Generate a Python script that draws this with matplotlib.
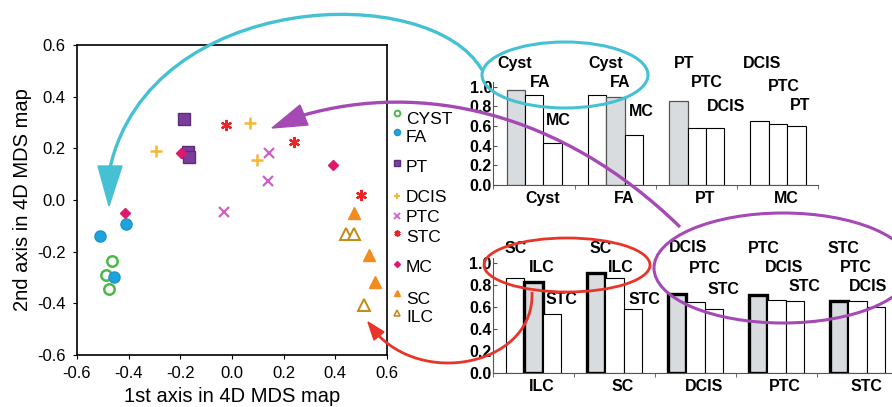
import numpy as np
import matplotlib
matplotlib.use('Agg')
import matplotlib.pyplot as plt
from matplotlib.path import Path
from matplotlib.patches import PathPatch, Ellipse, Polygon

plt.rcParams['font.family'] = ['Liberation Sans', 'DejaVu Sans']

# ---- MDS map points ----
cyst_x = [-0.465, -0.488, -0.477]
cyst_y = [-0.235, -0.290, -0.346]
fa_x = [-0.510, -0.410, -0.455]
fa_y = [-0.140, -0.094, -0.300]
pt_x = [-0.185, -0.172, -0.166]
pt_y = [0.314, 0.187, 0.168]
dcis_x = [-0.293, 0.071, 0.097]
dcis_y = [0.190, 0.297, 0.155]
ptc_x = [0.142, 0.138, -0.032]
ptc_y = [0.181, 0.075, -0.045]
stc_x = [-0.023, 0.241, 0.499]
stc_y = [0.290, 0.226, 0.019]
mc_x = [-0.197, 0.393, -0.415]
mc_y = [0.183, 0.136, -0.049]
sc_x = [0.471, 0.529, 0.552]
sc_y = [-0.051, -0.213, -0.316]
ilc_x = [0.443, 0.474, 0.512]
ilc_y = [-0.133, -0.133, -0.406]

ticks = [-0.6, -0.4, -0.2, 0.0, 0.2, 0.4, 0.6]

# ---- bar charts ----
top_groups = ['Cyst', 'FA', 'PT', 'MC']
top_names = [['Cyst', 'FA', 'MC'], ['Cyst', 'FA', 'MC'],
             ['PT', 'PTC', 'DCIS'], ['DCIS', 'PTC', 'PT']]
top_vals = [[0.97, 0.92, 0.43], [0.92, 0.89, 0.51],
            [0.85, 0.58, 0.58], [0.65, 0.62, 0.60]]

bot_groups = ['ILC', 'SC', 'DCIS', 'PTC', 'STC']
bot_names = [['SC', 'ILC', 'STC'], ['SC', 'ILC', 'STC'], ['DCIS', 'PTC', 'STC'],
             ['PTC', 'DCIS', 'STC'], ['STC', 'PTC', 'DCIS']]
bot_vals = [[0.87, 0.83, 0.54], [0.91, 0.87, 0.58], [0.72, 0.65, 0.58],
            [0.71, 0.67, 0.66], [0.66, 0.66, 0.60]]

# label placement (layout only)
top_lab_y = [[1.24, 1.04, 0.66], [1.24, 1.04, 0.75], [1.24, 1.04, 0.80], [1.24, 1.0, 0.81]]
top_lab_dx = [[-0.02, 0.07, 0.07], [0.1, 0.06, 0.09], [0.07, 0.12, 0.14], [0.03, 0.07, 0.05]]
bot_lab_y = [[1.13, 0.96, 0.67], [1.13, 0.96, 0.67], [1.14, 0.955, 0.76],
             [1.13, 0.96, 0.79], [1.13, 0.96, 0.79]]
bot_lab_dx = [[0, 0.1, 0.12], [0.06, 0.08, 0.14], [0.14, 0.12, 0.12],
              [0.07, 0.1, 0.12], [0.05, -0.02, -0.1]]

styles = {
    'CYST': dict(marker='o', mfc='none', mec='#4cb848', mew=1.8, ms=7.5),
    'FA': dict(marker='o', mfc='#1fa3dd', mec='#1a95cc', ms=8),
    'PT': dict(marker='s', mfc='#7a3d9c', mec='#5e2c7c', ms=8),
    'DCIS': dict(marker='+', mfc='#f7b731', mec='#f7b731', mew=1.8, ms=9),
    'PTC': dict(marker='x', mfc='#cf5fc6', mec='#cf5fc6', mew=1.6, ms=7.5),
    'STC': dict(marker=(6, 2, 0), mfc='#e8262a', mec='#e8262a', mew=1.6, ms=8),
    'MC': dict(marker='D', mfc='#e0186c', mec='#e0186c', ms=5.5),
    'SC': dict(marker='^', mfc='#f28c1e', mec='#f28c1e', ms=9),
    'ILC': dict(marker='^', mfc='white', mec='#c48a14', mew=1.4, ms=8),
}
points = [('CYST', cyst_x, cyst_y), ('FA', fa_x, fa_y), ('PT', pt_x, pt_y),
          ('DCIS', dcis_x, dcis_y), ('PTC', ptc_x, ptc_y), ('STC', stc_x, stc_y),
          ('MC', mc_x, mc_y), ('SC', sc_x, sc_y), ('ILC', ilc_x, ilc_y)]

fig = plt.figure(figsize=(8.92, 4.07), dpi=100)

# scatter panel
ax = fig.add_axes([0.0863, 0.1278, 0.3475, 0.7617])
for name, xs, ys in points:
    ax.plot(xs, ys, ls='none', **styles[name])
ax.set_xlim(-0.6, 0.6)
ax.set_ylim(-0.6, 0.6)
ax.set_xticks(ticks)
ax.set_yticks(ticks)
ax.set_xticklabels(['%.1f' % t for t in ticks])
ax.set_yticklabels(['%.1f' % t for t in ticks])
ax.tick_params(direction='out', length=3, labelsize=12, pad=5)
for s in ax.spines.values():
    s.set_linewidth(1.2)
ax.set_xlabel('1st axis in 4D MDS map', fontsize=14.5, labelpad=4)
ax.set_ylabel('2nd axis in 4D MDS map', fontsize=14.5, labelpad=4)


def bar_panel(rect, groups, names, vals, lab_y, lab_dx, gray_lw, gray_ec):
    bx = fig.add_axes(rect)
    w = 0.226
    for g, grp in enumerate(groups):
        for k in range(3):
            x0 = g + 0.165 + k * w
            own = names[g][k] == grp
            bx.bar(x0, vals[g][k], width=w, align='edge',
                   color='#d9dcdf' if own else 'white',
                   edgecolor=gray_ec if own else 'black',
                   lw=gray_lw if own else 0.8, zorder=2)
            bx.text(x0 + w / 2 + lab_dx[g][k], lab_y[g][k], names[g][k],
                    ha='center', va='center', fontsize=11.5, fontweight='bold',
                    clip_on=False)
    bx.set_xlim(0, len(groups))
    bx.set_ylim(0, 1.05)
    bx.spines['top'].set_visible(False)
    bx.spines['right'].set_visible(False)
    bx.spines['left'].set_color('#555555')
    bx.spines['bottom'].set_color('#555555')
    yt = np.arange(0, 1.01, 0.2)
    bx.set_yticks(yt)
    bx.set_yticklabels(['%.1f' % t for t in yt], fontsize=11.5, fontweight='bold')
    bx.tick_params(axis='y', direction='in', length=3, pad=1, color='#555555')
    bx.set_xticks(np.arange(len(groups)) + 0.61)
    bx.set_xticklabels(groups, fontsize=11.5, fontweight='bold')
    bx.set_xticks(np.arange(len(groups) + 1), minor=True)
    bx.tick_params(axis='x', which='major', length=0, pad=4)
    bx.tick_params(axis='x', which='minor', length=3, direction='out', color='#555555')
    return bx


bar_panel([0.553, 0.5455, 0.3644, 0.2536], top_groups, top_names, top_vals,
          top_lab_y, top_lab_dx, 0.9, '#555555')
bar_panel([0.5523, 0.0828, 0.454, 0.2838], bot_groups, bot_names, bot_vals,
          bot_lab_y, bot_lab_dx, 2.4, 'black')

# overlay in pixel coordinates for legend, ellipses and arrows
ov = fig.add_axes([0, 0, 1, 1])
ov.set_xlim(0, 892)
ov.set_ylim(407, 0)
ov.axis('off')
ov.set_zorder(10)
ov.patch.set_visible(False)

leg_marker_y = [113, 132, 163, 196, 216, 233, 264, 293, 313]
leg_text_y = [119, 138, 168, 197, 217, 237, 268, 300, 318]
for (name, _, _), my, ty in zip(points, leg_marker_y, leg_text_y):
    st = dict(styles[name])
    st['ms'] = st['ms'] * 0.55
    if 'mew' in st:
        st['mew'] = st['mew'] * 0.8
    ov.plot([397], [my], ls='none', **st)
    ov.text(406, ty, name, fontsize=12.5, va='center', ha='left')

cyan = '#45c1d3'
purple = '#a54ab5'
red = '#e8352a'

ov.add_patch(Ellipse((565, 75), 166, 66, fill=False, ec=cyan, lw=2.2))
ov.add_patch(Ellipse((783, 268), 258, 110, fill=False, ec=purple, lw=2.2))
ov.add_patch(Ellipse((567, 265), 166, 54, fill=False, ec=red, lw=2.0))

codes = [Path.MOVETO, Path.CURVE4, Path.CURVE4, Path.CURVE4]
ov.add_patch(PathPatch(Path([(482, 70), (430, -20), (150, -10), (110, 168)], codes),
                       fill=False, ec=cyan, lw=2.4))
ov.add_patch(Polygon([(98, 166), (122, 166), (109, 206)], closed=True, fc=cyan, ec=cyan))

ov.add_patch(PathPatch(Path([(680, 227), (560, 110), (420, 82), (304, 115)], codes),
                       fill=False, ec=purple, lw=2.4))
ov.add_patch(Polygon([(300, 105), (308, 125), (272, 128)], closed=True, fc=purple, ec=purple))

ov.add_patch(PathPatch(Path([(532, 292), (535, 362), (430, 387), (379, 336)], codes),
                       fill=False, ec=red, lw=2.0))
ov.add_patch(Polygon([(384, 332), (374, 340), (368, 322)], closed=True, fc=red, ec=red))

fig.savefig('out.png', dpi=100)
